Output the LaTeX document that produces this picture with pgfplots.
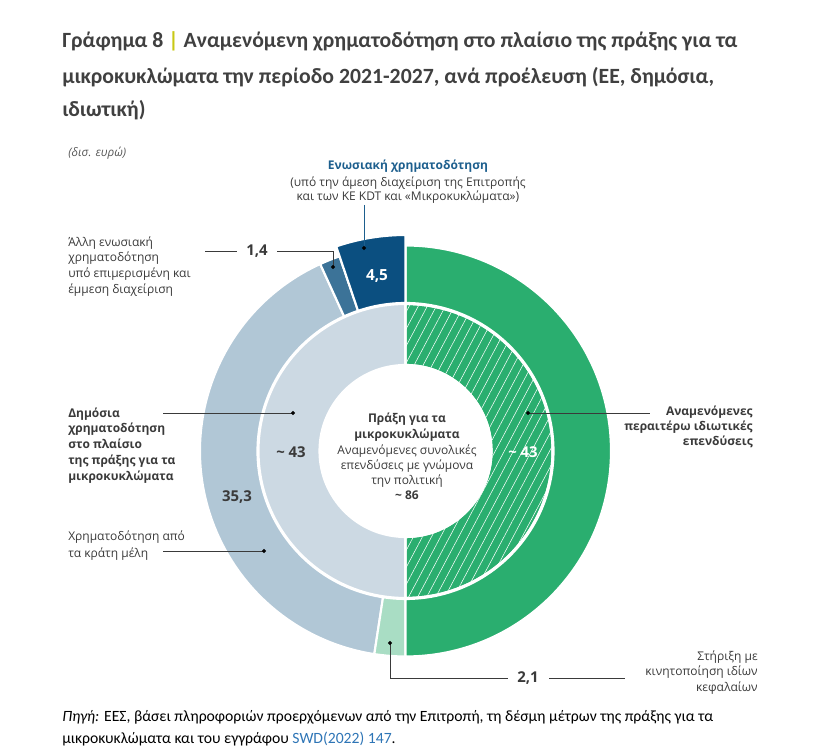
\documentclass[border=0pt]{standalone}
\usepackage{fontspec}
\setmainfont{Open Sans}
\newfontfamily\calfont{Carlito}
\usepackage{pgfplots}
\usepackage{pgfplotstable}
\pgfplotsset{compat=1.18}
\usetikzlibrary{patterns.meta}

\definecolor{cgreen}{HTML}{2AAE6F}
\definecolor{clgreen}{HTML}{A9DDC4}
\definecolor{clight}{HTML}{B1C7D6}
\definecolor{cinner}{HTML}{CCD9E3}
\definecolor{cdark}{HTML}{0B4F80}
\definecolor{cmid}{HTML}{3C7398}
\definecolor{chead}{HTML}{1D5F8E}
\definecolor{txt}{HTML}{3A3A3A}
\definecolor{ttl}{HTML}{404040}
\definecolor{ybar}{HTML}{C8C814}
\definecolor{link}{HTML}{2E75B6}

% outer ring, left half (EU + public), counter-clockwise from 12 o'clock
\pgfplotstableread{
segment value
dark 4.5
mid 1.4
light 35.3
lgreen 2.1
}\outerleft
% outer ring, right half
\pgfplotstableread{
segment value
green 43
}\outerright
% inner ring
\pgfplotstableread{
segment value
public 43
private 43
}\innerring

\pgfplotstablegetelem{0}{value}\of\outerleft \edef\vA{\pgfplotsretval}
\pgfplotstablegetelem{1}{value}\of\outerleft \edef\vB{\pgfplotsretval}
\pgfplotstablegetelem{2}{value}\of\outerleft \edef\vC{\pgfplotsretval}
\pgfplotstablegetelem{3}{value}\of\outerleft \edef\vD{\pgfplotsretval}
\pgfplotstablegetelem{0}{value}\of\innerring \edef\vP{\pgfplotsretval}
\pgfplotstablegetelem{1}{value}\of\innerring \edef\vQ{\pgfplotsretval}
\pgfmathsetmacro\sL{\vA+\vB+\vC+\vD}
\pgfmathsetmacro\aA{90+180*\vA/\sL}
\pgfmathsetmacro\aB{\aA+180*\vB/\sL}
\pgfmathsetmacro\aC{\aB+180*\vC/\sL}
\pgfmathsetmacro\aD{\aC+180*\vD/\sL}
\pgfmathsetmacro\iA{90+360*\vP/(\vP+\vQ)}

\newcommand\donutwedge[5]{%
  \path[#1] (axis cs:405.5,301) ++({#2}:{#5*0.75pt})
    arc[start angle={#2}, end angle={#3}, radius={#5*0.75pt}]
    -- ++({#3+180}:{(#5-#4)*0.75pt})
    arc[start angle={#3}, end angle={#2}, radius={#4*0.75pt}] -- cycle;}

\newcommand\lab[4]{\node[anchor=#1, inner sep=0pt, text=txt, font=#2] at (axis cs:#3) {#4};}
\newcommand\fs{\fontsize{9}{11}\selectfont}
\newcommand\fb{\fontsize{9}{11}\selectfont\bfseries}
\newcommand\fv{\fontsize{11.2}{13}\selectfont\bfseries}

\begin{document}
\begin{tikzpicture}
\useasboundingbox (0,0) rectangle (611.25pt,564pt);
\begin{axis}[x=0.75pt, y=0.75pt, xmin=0, xmax=815, ymin=0, ymax=752,
  hide axis, clip=false, scale only axis, at={(0,0)}, anchor=south west]

% outer ring
\donutwedge{fill=clight, draw=white, line width=1.6pt}{\aB}{\aC}{148}{205.5}
\donutwedge{fill=cmid, draw=white, line width=1.6pt}{\aA}{\aB}{148}{205.5}
\donutwedge{fill=clgreen, draw=white, line width=1.6pt}{\aC}{\aD}{148}{205.5}
\donutwedge{fill=cgreen, draw=white, line width=1.6pt}{\aD}{\aD+180}{148}{205.5}
\donutwedge{fill=cdark, draw=white, line width=1.6pt}{90}{\aA}{148}{216}
% inner ring
\donutwedge{fill=cinner, draw=white, line width=1.6pt}{90}{\iA}{86}{147}
\donutwedge{fill=cgreen, draw=white, line width=1.6pt}{\iA}{450}{86}{147}
\donutwedge{pattern={Lines[angle=62,distance=6pt,line width=0.4pt]}, pattern color=white}{\iA}{450}{87}{146}
\donutwedge{draw=white, line width=1.6pt}{\iA}{450}{86}{147}

% title
\node[anchor=base west, inner sep=0pt, text=ttl, font=\calfont\fontsize{16.3}{19}\selectfont\bfseries] at (axis cs:62,704) {Γράφημα 8 \textcolor{ybar}{|} Αναμενόμενη χρηματοδότηση στο πλαίσιο της πράξης για τα};
\node[anchor=base west, inner sep=0pt, text=ttl, font=\calfont\fontsize{16.3}{19}\selectfont\bfseries] at (axis cs:62,668) {μικροκυκλώματα την περίοδο 2021-2027, ανά προέλευση (ΕΕ, δημόσια,};
\node[anchor=base west, inner sep=0pt, text=ttl, font=\calfont\fontsize{16.3}{19}\selectfont\bfseries] at (axis cs:62,635) {ιδιωτική)};

\node[anchor=base west, inner sep=0pt, text=txt!85, font=\fontsize{8.8}{10}\selectfont\itshape] at (axis cs:68,595) {(δισ. ευρώ)};

% EU direct label
\node[anchor=base, inner sep=0pt, text=chead, font=\fb] at (axis cs:408,582) {Ενωσιακή χρηματοδότηση};
\lab{base}{\fs}{408,565}{(υπό την άμεση διαχείριση της Επιτροπής}
\lab{base}{\fs}{408,551}{και των ΚΕ KDT και «Μικροκυκλώματα»)}
\addplot[draw=chead, line width=0.6pt, mark=*, mark size=1.1pt, mark options={fill=black,draw=black}, mark indices={2}] coordinates {(364,547) (364,504)};

% other EU
\lab{base west}{\fs}{68,505}{Άλλη ενωσιακή}
\lab{base west}{\fs}{68,490}{χρηματοδότηση}
\lab{base west}{\fs}{68,474}{υπό επιμερισμένη και}
\lab{base west}{\fs}{68,458}{έμμεση διαχείριση}
\lab{center}{\fv}{257,501}{1,4}
\addplot[draw=txt, line width=0.6pt] coordinates {(205,501) (237,501)};
\addplot[draw=txt, line width=0.6pt, mark=*, mark size=1.1pt, mark options={fill=black,draw=black}, mark indices={3}] coordinates {(277,501) (333,501) (333,485)};
\node[text=white, font=\fontsize{11.5}{13}\selectfont\bfseries] at (axis cs:377,476) {4,5};

% public
\lab{base west}{\fb}{68,334}{Δημόσια}
\lab{base west}{\fb}{68,319}{χρηματοδότηση}
\lab{base west}{\fb}{68,303}{στο πλαίσιο}
\lab{base west}{\fb}{68,287}{της πράξης για τα}
\lab{base west}{\fb}{68,271}{μικροκυκλώματα}
\addplot[draw=txt, line width=0.6pt, mark=*, mark size=1.1pt, mark options={fill=black,draw=black}, mark indices={2}] coordinates {(163,339) (293,339)};
\lab{center}{\fv}{291,300}{\char"007E\ 43}
\lab{center}{\fv}{237,255}{35,3}
\lab{base west}{\fs}{68,211}{Χρηματοδότηση από}
\lab{base west}{\fs}{68,194}{τα κράτη μέλη}
\addplot[draw=txt, line width=0.6pt, mark=*, mark size=1.1pt, mark options={fill=black,draw=black}, mark indices={2}] coordinates {(163,201) (264,201)};

% centre
\lab{base}{\fb}{407,329}{Πράξη για τα}
\lab{base}{\fb}{407,313}{μικροκυκλώματα}
\lab{base}{\fs}{407,297}{Αναμενόμενες συνολικές}
\lab{base}{\fs}{407,282}{επενδύσεις με γνώμονα}
\lab{base}{\fs}{407,267}{την πολιτική}
\lab{base}{\fb}{407,252}{\char"007E\ 86}

% private
\node[text=white, font=\fv] at (axis cs:523,300) {\char"007E\ 43};
\lab{base east}{\fb}{753,336}{Αναμενόμενες}
\lab{base east}{\fb}{753,321}{περαιτέρω ιδιωτικές}
\lab{base east}{\fb}{753,306}{επενδύσεις}
\addplot[draw=txt, line width=0.6pt, mark=*, mark size=1.1pt, mark options={fill=black,draw=black}, mark indices={1}] coordinates {(528,339) (650,339)};

% own capital
\addplot[draw=txt, line width=0.6pt, mark=*, mark size=1.1pt, mark options={fill=black,draw=black}, mark indices={1}] coordinates {(390,109) (390,74) (508,74)};
\lab{center}{\fv}{528,74}{2,1}
\addplot[draw=txt, line width=0.6pt] coordinates {(549,74) (625,74)};
\lab{base east}{\fs}{758,91}{Στήριξη με}
\lab{base east}{\fs}{758,76}{κινητοποίηση ιδίων}
\lab{base east}{\fs}{758,60}{κεφαλαίων}

% source
\node[anchor=base west, inner sep=0pt, text=black, font=\calfont\fontsize{11.75}{14}\selectfont] at (axis cs:62,30) {\textit{Πηγή:} ΕΕΣ, βάσει πληροφοριών προερχόμενων από την Επιτροπή, τη δέσμη μέτρων της πράξης για τα};
\node[anchor=base west, inner sep=0pt, text=black, font=\calfont\fontsize{11.75}{14}\selectfont] at (axis cs:62,8) {μικροκυκλώματα και του εγγράφου \textcolor{link}{SWD(2022) 147}.};
\end{axis}
\end{tikzpicture}
\end{document}
